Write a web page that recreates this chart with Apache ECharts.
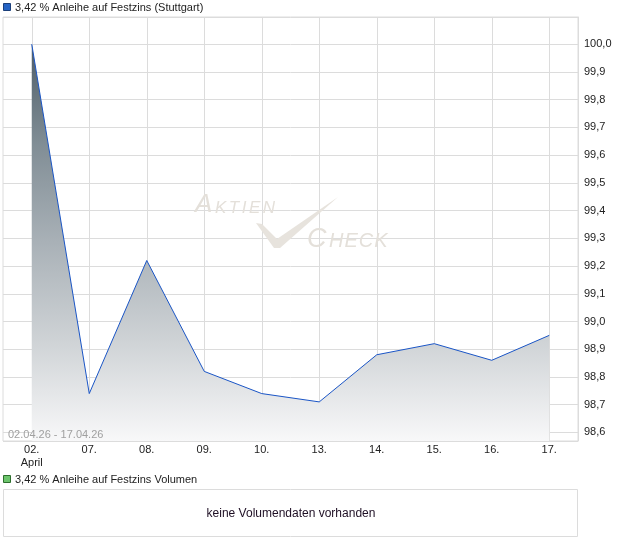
<!DOCTYPE html>
<html>
<head>
<meta charset="utf-8">
<script src="https://cdn.jsdelivr.net/npm/echarts@6/dist/echarts.min.js"></script>
<style>
html,body{margin:0;padding:0;background:#fff;}
#c{width:620px;height:546px;}
</style>
</head>
<body>
<div id="c"></div>
<script>
const categories = ['02.\nApril', '07.', '08.', '09.', '10.', '13.', '14.', '15.', '16.', '17.'];
const prices = [100.0, 98.74, 99.22, 98.82, 98.74, 98.71, 98.88, 98.92, 98.86, 98.95];
const seriesName = '3,42 % Anleihe auf Festzins (Stuttgart)';
const volumeName = '3,42 % Anleihe auf Festzins Volumen';
const dateRange = '02.04.26 - 17.04.26';
const noVolumeText = 'keine Volumendaten vorhanden';

const FONT = '"Liberation Sans", Arial, sans-serif';
const WM = '#e4e0da';
const chart = echarts.init(document.getElementById('c'), null, {renderer: 'canvas'});

function isTenth(v) {
  return Math.abs(v * 10 - Math.round(v * 10)) < 1e-6;
}

// watermark letters (decoration)
function wmLetters(str, x0, yBottom, size, gap) {
  const widths = {A: 0.667, K: 0.667, T: 0.611, I: 0.278, E: 0.667, N: 0.722, C: 0.722, H: 0.722};
  const out = [];
  let x = x0;
  for (const ch of str) {
    out.push({type: 'text', z: 1, silent: true, x: x, y: yBottom,
      style: {text: ch, font: 'italic ' + size + 'px ' + FONT, fill: WM, verticalAlign: 'bottom'}});
    x += widths[ch] * size + gap;
  }
  return out;
}

const graphics = [
  {type: 'polygon', z: 1, silent: true,
    shape: {points: [[256,223],[262,224],[277,239],[338,197],[280,248],[274,248]]},
    style: {fill: '#e7e3dd'}},
  {type: 'text', z: 1, silent: true, x: 195, y: 218,
    style: {text: 'A', font: 'italic 26px ' + FONT, fill: WM, verticalAlign: 'bottom'}}
].concat(wmLetters('KTIEN', 215, 217, 17, 2.5))
 .concat([{type: 'text', z: 1, silent: true, x: 307, y: 252.5,
    style: {text: 'C', font: 'italic 27px ' + FONT, fill: WM, verticalAlign: 'bottom'}}])
 .concat(wmLetters('HECK', 329, 251.5, 20, 1))
 .concat([
  // top legend
  {type: 'rect', shape: {x: 3.5, y: 3.5, width: 7, height: 7},
    style: {fill: '#2563c4', stroke: '#1b3f7a', lineWidth: 1}},
  {type: 'text', x: 15, y: 7.5,
    style: {text: seriesName, font: '11px ' + FONT, fill: '#222', verticalAlign: 'middle'}},
  // date range
  {type: 'text', x: 8, y: 435, z: 10,
    style: {text: dateRange, font: '11px ' + FONT, fill: '#a0a0a0', verticalAlign: 'middle'}},
  // volume legend
  {type: 'rect', shape: {x: 3.5, y: 475.5, width: 7, height: 7},
    style: {fill: '#6cc46c', stroke: '#2d6e2d', lineWidth: 1}},
  {type: 'text', x: 15, y: 479.5,
    style: {text: volumeName, font: '11px ' + FONT, fill: '#222', verticalAlign: 'middle'}},
  // volume box
  {type: 'rect', shape: {x: 3.5, y: 489.5, width: 574, height: 47},
    style: {fill: '#fff', stroke: '#dcdcdc', lineWidth: 1}},
  {type: 'text', x: 291, y: 514,
    style: {text: noVolumeText, font: '12px ' + FONT, fill: '#1e0f24', align: 'center', verticalAlign: 'middle'}}
]);

chart.setOption({
  animation: false,
  backgroundColor: '#fff',
  textStyle: {fontFamily: FONT},
  grid: {
    left: 3, right: 42, top: 17, bottom: 105,
    show: true, borderColor: '#dcdcdc', borderWidth: 1, backgroundColor: 'transparent'
  },
  xAxis: {
    type: 'category',
    data: categories,
    boundaryGap: true,
    axisLine: {show: false},
    axisTick: {show: false, alignWithLabel: true},
    splitLine: {show: true, alignWithLabel: true, lineStyle: {color: '#dcdcdc', width: 1}},
    axisLabel: {color: '#222', fontSize: 11, fontFamily: FONT, margin: 2, lineHeight: 13, interval: 0}
  },
  yAxis: {
    type: 'value',
    position: 'right',
    min: 98.569,
    max: 100.098,
    splitNumber: 15,
    scale: true,
    axisLine: {show: true, lineStyle: {color: '#dcdcdc'}},
    axisTick: {show: false},
    splitLine: {show: true, lineStyle: {color: '#dcdcdc', width: 1}},
    axisLabel: {
      color: '#222', fontSize: 11, fontFamily: FONT, margin: 6,
      showMinLabel: false, showMaxLabel: false,
      formatter: function (v) {
        if (!isTenth(v)) return '';
        return v.toFixed(1).replace('.', ',');
      }
    }
  },
  series: [{
    name: seriesName,
    type: 'line',
    data: prices,
    symbol: 'none',
    smooth: false,
    lineStyle: {color: '#1a55c6', width: 1},
    areaStyle: {
      origin: 'start',
      opacity: 1,
      color: {
        type: 'linear', x: 0, y: 0, x2: 0, y2: 1,
        colorStops: [
          {offset: 0, color: '#4e5d68'},
          {offset: 0.25, color: '#808d95'},
          {offset: 0.5, color: '#a9b1b7'},
          {offset: 0.75, color: '#cfd3d6'},
          {offset: 1, color: '#f8f8f9'}
        ]
      }
    },
    z: 3
  }],
  graphic: graphics
});
</script>
</body>
</html>
